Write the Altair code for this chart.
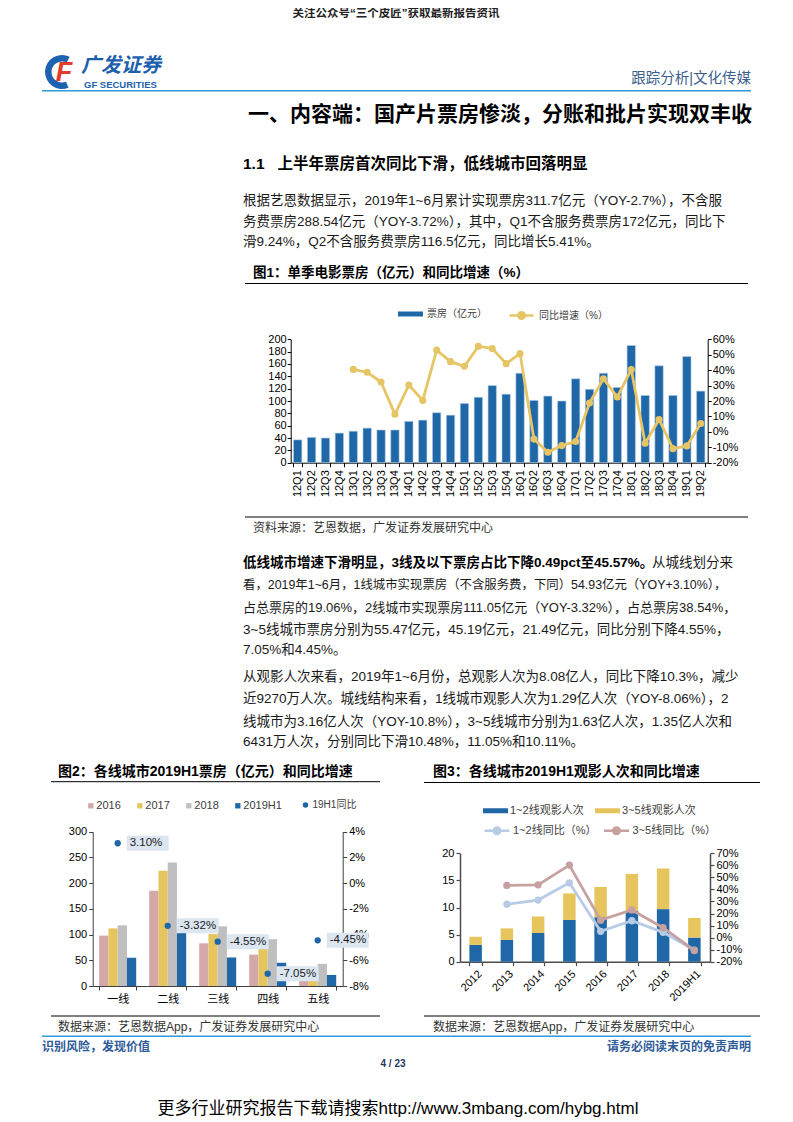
import altair as alt
import pandas as pd

W, H = 777, 1112


def px(v):
    return v - 8


def py(v):
    return v - 8


FONT = "Liberation Sans, Noto Sans CJK SC"
NUM = "Liberation Sans"

BLUE = "#1f67a6"
GOLD = "#e6c566"
PINK16 = "#d5a8a8"
GOLD17 = "#e6c55f"
GRAY18 = "#bfbfbf"
LBLUE = "#b7cbe6"
ROSE = "#c7a0a0"
LINEBLUE = "#2e9ad8"
TXT = "#1a1a1a"

# ---------------- data ----------------
quarters = ["12Q1", "12Q2", "12Q3", "12Q4", "13Q1", "13Q2", "13Q3", "13Q4",
            "14Q1", "14Q2", "14Q3", "14Q4", "15Q1", "15Q2", "15Q3", "15Q4",
            "16Q1", "16Q2", "16Q3", "16Q4", "17Q1", "17Q2", "17Q3", "17Q4",
            "18Q1", "18Q2", "18Q3", "18Q4", "19Q1", "19Q2"]
box_office = [37, 41, 40, 48, 51, 56, 53, 53, 67, 69, 81, 77, 96, 106, 125, 111,
              145, 101, 108, 100, 136, 119, 145, 122, 190, 109, 157, 109, 172, 116]
yoy_quarters = quarters[4:]
yoy_box = [40.5, 38.6, 32.3, 11.4, 30.4, 20.4, 53.0, 45.5, 42.5, 55.5, 54.0, 44.2,
           50.7, -4.7, -13.2, -8.9, -6.3, 18.7, 34.4, 22.6, 40.4, -7.4, 8.0, -10.9,
           -9.1, 5.4]

cities = ["一线", "二线", "三线", "四线", "五线"]
city_years = ["2016", "2017", "2018", "2019H1"]
bo_2016 = [98, 185, 83, 61, 22]
bo_2017 = [112, 224, 101, 73, 30]
bo_2018 = [118, 240, 116, 91, 43]
bo_2019h1 = [54.93, 111.05, 55.47, 45.19, 21.49]
yoy_city = [3.10, -3.32, -4.55, -7.05, -4.45]

years = ["2012", "2013", "2014", "2015", "2016", "2017", "2018", "2019H1"]
aud_12 = [3.1, 4.0, 5.3, 7.7, 8.2, 9.4, 9.7, 4.45]
aud_35 = [1.5, 2.15, 3.05, 4.9, 5.6, 6.8, 7.5, 3.63]
yoy_years = years[1:]
yoy_12 = [27.7, 31.2, 45.5, 5.2, 14.0, 4.4, -10.5]
yoy_35 = [43.3, 43.8, 60.2, 14.5, 23.0, 8.2, -10.7]

# ---------------- helpers ----------------
L = []


def text(s, x, y, size=13.5, weight="normal", color=TXT, align="left", font=FONT, italic=False):
    kw = dict(align=align, baseline="middle", fontSize=size, fontWeight=weight, color=color, font=font)
    if italic:
        kw["fontStyle"] = "italic"
    L.append(alt.Chart(pd.DataFrame({"t": [s]})).mark_text(**kw).encode(
        x=alt.value(px(x)), y=alt.value(py(y)), text="t:N"))


def hrule(x1, x2, y, color="#000", width=1.0):
    L.append(alt.Chart(pd.DataFrame({"a": [0]})).mark_rule(color=color, strokeWidth=width).encode(
        x=alt.value(px(x1)), x2=alt.value(px(x2)), y=alt.value(py(y))))


RECT_SYM = "M-1,-0.2L1,-0.2L1,0.2L-1,0.2Z"
LINE_SYM = "M-1,0L1,0M0.26,0A0.26,0.26,0,1,1,-0.26,0A0.26,0.26,0,1,1,0.26,0Z"
BOX_SYM = "M-1,-0.357L1,-0.357L1,0.357L-1,0.357Z"


def axis(**kw):
    base = dict(grid=False, title=None, domainColor="#000", tickColor="#000", labelColor="#000",
                labelFont=NUM, labelFontSize=11, domainWidth=1, tickWidth=1, labelOverlap=False,
                tickSize=4, labelPadding=2)
    base.update(kw)
    return alt.Axis(**base)


def legend(x, ycenter, sym, size, **kw):
    base = dict(orient="none", legendX=px(x), legendY=py(ycenter) - (size ** 0.5) / 2, direction="horizontal",
                title=None, symbolType=sym, symbolSize=size, labelFont=FONT, labelFontSize=10,
                labelColor="#404040", padding=0, labelOffset=4, columnPadding=20, symbolStrokeWidth=0)
    base.update(kw)
    return alt.Legend(**base)


NB = "\u00a0"

# ---------------- header ----------------
text("关注公众号“三个皮匠”获取最新报告资讯", 396, 14, size=11.5, weight="bold", color="#222", align="center")
L.append(alt.Chart(pd.DataFrame({"a": [0]})).mark_arc(theta=2.75, theta2=6.75, radius=17, radius2=10.5,
                                                     color="#1d62b0").encode(
    x=alt.value(px(62)), y=alt.value(py(72))))
text("F", 64, 73, size=27, weight="bold", color="#e23a2d", align="center", italic=True)
text("广发证券", 81, 66, size=20, weight="bold", color="#1d5fad", italic=True)
text("GF SECURITIES", 84, 84.5, size=9.5, weight="bold", color="#1d5fad")
text("跟踪分析|文化传媒", 751, 79, size=14.5, color="#3d5f8e", align="right")
hrule(42, 751, 90.7, color=LINEBLUE, width=1.5)
text("一、内容端：国产片票房惨淡，分账和批片实现双丰收", 752, 115, size=21, weight="bold", color="#000",
     align="right")
text("1.1" + NB * 3 + "上半年票房首次同比下滑，低线城市回落明显", 243, 163.5, size=15.5, weight="bold",
     color="#000")

para1 = ["根据艺恩数据显示，2019年1~6月累计实现票房311.7亿元（YOY-2.7%），不含服",
         "务费票房288.54亿元（YOY-3.72%），其中，Q1不含服务费票房172亿元，同比下",
         "滑9.24%，Q2不含服务费票房116.5亿元，同比增长5.41%。"]
for s, yy in zip(para1, [201, 221.7, 241.7]):
    text(s, 243, yy)

text("图1：单季电影票房（亿元）和同比增速（%）", 253, 273, size=13.5, weight="bold", color="#000")
hrule(245, 748, 283.5)

# ---------------- chart 1 ----------------
X1 = alt.Scale(type="band", domain=quarters, range=[px(290.7), px(707.7)], paddingInner=0.4, paddingOuter=0.2)
Y1L = alt.Scale(domain=[0, 200], range=[py(462.7), py(339.3)], nice=False, zero=False)
Y1R = alt.Scale(domain=[-20, 60], range=[py(462.7), py(339.3)], nice=False, zero=False)

df1 = pd.DataFrame({"q": quarters, "box": box_office, "s": "票房（亿元）"})
df1y = pd.DataFrame({"q": yoy_quarters, "yoy": yoy_box, "s": "同比增速（%）"})

L.append(alt.Chart(df1).mark_bar(stroke="#b4cde8", strokeWidth=0.6).encode(
    x=alt.X("q:N", scale=X1, axis=axis(orient="bottom", offset=py(462.7) - H, labelAngle=270,
                                        labelAlign="right", labelBaseline="middle", labelPadding=3,
                                        tickBand="extent")),
    y=alt.Y("box:Q", scale=Y1L, axis=axis(orient="left", offset=-px(290.7), values=list(range(0, 201, 20)),
                                           tickSize=3.5, labelPadding=1)),
    color=alt.Color("s:N", scale=alt.Scale(domain=["票房（亿元）"], range=[BLUE]),
                    legend=legend(398, 314, RECT_SYM, 625)),
))
L.append(alt.Chart(df1y).mark_line(color=GOLD, strokeWidth=2.8).encode(
    x=alt.X("q:N", scale=X1, axis=None),
    y=alt.Y("yoy:Q", scale=Y1R, axis=axis(orient="right", offset=px(707.7) - W,
                                           values=list(range(-20, 61, 10)), labelExpr="datum.value + '%'",
                                           tickSize=3.5, labelPadding=1)),
))
leg1b = legend(508, 314, LINE_SYM, 576, symbolStrokeWidth=2.6)
L.append(alt.Chart(df1y).mark_point(filled=True, size=26, opacity=1).encode(
    x=alt.X("q:N", scale=X1, axis=None),
    y=alt.Y("yoy:Q", scale=Y1R, axis=None),
    fill=alt.Fill("s:N", scale=alt.Scale(domain=["同比增速（%）"], range=[GOLD]), legend=leg1b),
    stroke=alt.Stroke("s:N", scale=alt.Scale(domain=["同比增速（%）"], range=[GOLD]), legend=leg1b),
))

hrule(245, 748, 517)
text("资料来源：艺恩数据，广发证券发展研究中心", 253, 527.5, size=12, color="#333")

# ---------------- paragraphs ----------------
text("低线城市增速下滑明显，3线及以下票房占比下降0.49pct至45.57%。", 243, 563, weight="bold", color="#000")
text("从城线划分来", 652, 563)
text("看，2019年1~6月，1线城市实现票房（不含服务费，下同）54.93亿元（YOY+3.10%），", 243, 585, size=12.4)
text("占总票房的19.06%，2线城市实现票房111.05亿元（YOY-3.32%），占总票房38.54%，", 243, 607.5, size=13.0)
text("3~5线城市票房分别为55.47亿元，45.19亿元，21.49亿元，同比分别下降4.55%，", 243, 629.5)
text("7.05%和4.45%。", 243, 649.5)

para3 = ["从观影人次来看，2019年1~6月份，总观影人次为8.08亿人，同比下降10.3%，减少",
         "近9270万人次。城线结构来看，1线城市观影人次为1.29亿人次（YOY-8.06%），2",
         "线城市为3.16亿人次（YOY-10.8%），3~5线城市分别为1.63亿人次，1.35亿人次和",
         "6431万人次，分别同比下滑10.48%，11.05%和10.11%。"]
for s, yy in zip(para3, [677, 699.3, 721.5, 742]):
    text(s, 243, yy)

# ---------------- chart 2 ----------------
text("图2：各线城市2019H1票房（亿元）和同比增速", 58, 771.7, size=14, weight="bold", color="#000")
hrule(51, 380, 781.7)

X2 = alt.Scale(type="band", domain=cities, range=[px(92.7), px(342.7)], paddingInner=0.26, paddingOuter=0.13)
Y2L = alt.Scale(domain=[0, 300], range=[py(986), py(831.7)], nice=False, zero=False)
Y2R = alt.Scale(domain=[-8, 4], range=[py(986), py(831.7)], nice=False, zero=False)

rows = []
for yr, vals in zip(city_years, [bo_2016, bo_2017, bo_2018, bo_2019h1]):
    for c, v in zip(cities, vals):
        rows.append({"city": c, "year": yr, "v": v})
df2 = pd.DataFrame(rows)
ax2 = dict(domainColor="#404040", tickColor="#404040")
L.append(alt.Chart(df2).mark_bar().encode(
    x=alt.X("city:N", scale=X2, axis=axis(orient="bottom", offset=py(986) - H, labelAngle=0, tickBand="extent",
                                           labelFont=FONT, labelFontSize=11, labelPadding=3, **ax2)),
    xOffset=alt.XOffset("year:N", scale=alt.Scale(domain=city_years, paddingInner=0, paddingOuter=0)),
    y=alt.Y("v:Q", scale=Y2L, axis=axis(orient="left", offset=-px(92.7), values=list(range(0, 301, 50)), **ax2)),
    color=alt.Color("year:N", scale=alt.Scale(domain=city_years, range=[PINK16, GOLD17, GRAY18, BLUE]),
                    legend=legend(85.3, 802.7, "square", 28, labelFont=NUM, labelFontSize=11,
                                  labelOffset=0, columnPadding=13)),
))
df2l = pd.DataFrame({"city": cities, "yoy": yoy_city, "s": "19H1同比"})
df2l["lab"] = [f"{v:.2f}%" for v in yoy_city]
L.append(alt.Chart(df2l).mark_point(shape=BOX_SYM, size=1764, filled=True, color="#dce6f1", opacity=1,
                                    xOffset=30).encode(
    x=alt.X("city:N", scale=X2, axis=None), y=alt.Y("yoy:Q", scale=Y2R, axis=None)))
L.append(alt.Chart(df2l).mark_point(filled=True, size=40, opacity=1).encode(
    x=alt.X("city:N", scale=X2, axis=None),
    y=alt.Y("yoy:Q", scale=Y2R, axis=axis(orient="right", offset=px(342.7) - W, values=list(range(-8, 5, 2)),
                                           labelExpr="datum.value + '%'", **ax2)),
    color=alt.Color("s:N", scale=alt.Scale(domain=["19H1同比"], range=[BLUE]),
                    legend=legend(300.5, 802.7, "circle", 30, labelOffset=2)),
))
L.append(alt.Chart(df2l).mark_text(align="left", baseline="middle", dx=12, font=NUM, fontSize=11.5,
                                   color="#1a1a1a").encode(
    x=alt.X("city:N", scale=X2, axis=None), y=alt.Y("yoy:Q", scale=Y2R, axis=None), text="lab:N"))

hrule(51, 380, 1016)
text("数据来源：艺恩数据App，广发证券发展研究中心", 58, 1027, size=12, color="#333")

# ---------------- chart 3 ----------------
text("图3：各线城市2019H1观影人次和同比增速", 433, 771.7, size=14, weight="bold", color="#000")
hrule(424, 760, 782.5)

X3 = alt.Scale(type="band", domain=years, range=[px(460), px(710)], paddingInner=0.6, paddingOuter=0.3)
Y3L = alt.Scale(domain=[0, 20], range=[py(961.7), py(853.3)], nice=False, zero=False)
Y3R = alt.Scale(domain=[-20, 70], range=[py(961.7), py(853.3)], nice=False, zero=False)
tiers = ["1~2线观影人次", "3~5线观影人次"]
rows = []
for i, (t, vals) in enumerate(zip(tiers, [aud_12, aud_35])):
    for y_, v in zip(years, vals):
        rows.append({"year": y_, "tier": t, "v": v, "o": i})
df3 = pd.DataFrame(rows)
ax3 = dict(domainColor="#4d4d4d", tickColor="#4d4d4d", domainWidth=1.5, tickWidth=1.2)
L.append(alt.Chart(df3).mark_bar().encode(
    x=alt.X("year:N", scale=X3, axis=axis(orient="bottom", offset=py(961.7) - H, labelAngle=315,
                                           labelAlign="right", labelBaseline="top", labelPadding=2,
                                           tickBand="extent", **ax3)),
    y=alt.Y("v:Q", scale=Y3L, stack="zero",
            axis=axis(orient="left", offset=-px(460), values=[0, 5, 10, 15, 20], **ax3)),
    color=alt.Color("tier:N", scale=alt.Scale(domain=tiers, range=[BLUE, GOLD17]),
                    legend=legend(483, 810.5, RECT_SYM, 625, labelFontSize=11, labelOffset=2, columnPadding=11)),
    order=alt.Order("o:Q"),
))
lines = ["1~2线同比（%）", "3~5线同比（%）"]
rows = []
for t, vals in zip(lines, [yoy_12, yoy_35]):
    for y_, v in zip(yoy_years, vals):
        rows.append({"year": y_, "s": t, "yoy": v})
df3l = pd.DataFrame(rows)
L.append(alt.Chart(df3l).mark_line(strokeWidth=2.8).encode(
    x=alt.X("year:N", scale=X3, axis=None),
    y=alt.Y("yoy:Q", scale=Y3R, axis=axis(orient="right", offset=px(710) - W,
                                           values=list(range(-20, 71, 10)), labelExpr="datum.value + '%'", **ax3)),
    stroke=alt.Stroke("s:N", scale=alt.Scale(domain=lines, range=[LBLUE, ROSE]), legend=None),
    detail="s:N",
))
leg3b = legend(483, 829, LINE_SYM, 625, labelFontSize=11, labelOffset=2, columnPadding=1.5, symbolStrokeWidth=2.6)
L.append(alt.Chart(df3l).mark_point(filled=True, size=28, opacity=1).encode(
    x=alt.X("year:N", scale=X3, axis=None),
    y=alt.Y("yoy:Q", scale=Y3R, axis=None),
    fill=alt.Fill("s:N", scale=alt.Scale(domain=lines, range=[LBLUE, ROSE]), legend=leg3b),
    stroke=alt.Stroke("s:N", scale=alt.Scale(domain=lines, range=[LBLUE, ROSE]), legend=leg3b),
))

hrule(424, 760, 1016)
text("数据来源：艺恩数据App，广发证券发展研究中心", 433, 1027, size=12, color="#333")

# ---------------- footer ----------------
hrule(42, 751, 1036.3, color=LINEBLUE, width=1.5)
text("识别风险，发现价值", 42, 1046.5, size=12, weight="bold", color="#2f5b9a")
text("请务必阅读末页的免责声明", 751, 1046.5, size=12, weight="bold", color="#2f5b9a", align="right")
text("4 / 23", 393, 1064.3, size=10, weight="bold", color="#1f3864", align="center")
text("更多行业研究报告下载请搜索http://www.3mbang.com/hybg.html", 398, 1108.5, size=17, color="#000",
     align="center")

chart = alt.layer(*L).properties(
    width=W, height=H, padding=0, background="white",
    autosize=alt.AutoSizeParams(type="none"),
).resolve_scale(
    x="independent", y="independent", color="independent", fill="independent", stroke="independent",
    xOffset="independent",
).resolve_axis(x="independent", y="independent").resolve_legend(
    color="independent", fill="independent", stroke="independent"
).configure_view(stroke=None)

chart.save("out.html", embed_options={"renderer": "svg", "actions": False})
